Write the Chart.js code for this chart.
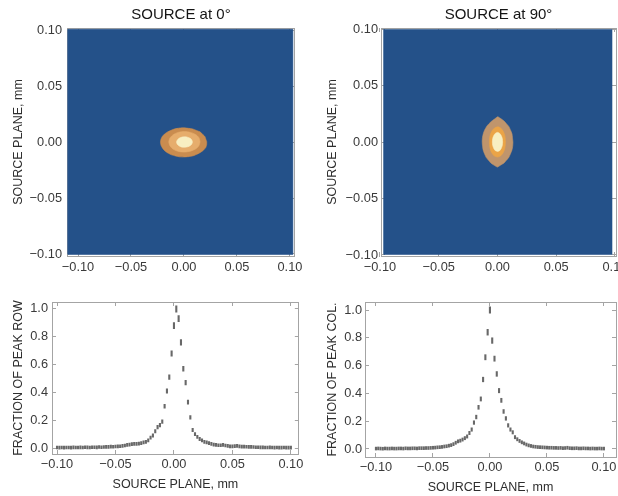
<!DOCTYPE html>
<html><head><meta charset="utf-8">
<script src="https://cdn.jsdelivr.net/npm/chart.js@4"></script>
<style>
html,body{margin:0;padding:0;background:#fff;overflow:hidden;width:618px;height:496px;position:relative;}
canvas{position:absolute;}
</style></head><body>
<canvas id="c1" style="left:0;top:0;width:310px;height:285px" width="310" height="285"></canvas>
<canvas id="c2" style="left:310px;top:0;width:330px;height:285px" width="330" height="285"></canvas>
<canvas id="c3" style="left:0;top:285px;width:310px;height:211px" width="310" height="211"></canvas>
<canvas id="c4" style="left:310px;top:285px;width:330px;height:211px" width="330" height="211"></canvas>
<script>
// ---------- tick values / labels ----------
const planeTickValues = [-0.10, -0.05, 0.00, 0.05, 0.10];
const planeTickLabels = ['\u22120.10', '\u22120.05', '0.00', '0.05', '0.10'];
const fracTickValues = [0.0, 0.2, 0.4, 0.6, 0.8, 1.0];
const fracTickLabels = ['0.0', '0.2', '0.4', '0.6', '0.8', '1.0'];

// ---------- titles ----------
const titleLeft = 'SOURCE at 0\u00B0';
const titleRight = 'SOURCE at 90\u00B0';
const axisPlane = 'SOURCE PLANE, mm';
const axisRow = 'FRACTION OF PEAK ROW';
const axisCol = 'FRACTION OF PEAK COL.';

// ---------- heat map (contour) data, mm ----------
// background level (whole map)
const mapLeftBackground = [[-0.1094,-0.1004],[0.1028,-0.1004],[0.1028,0.1012],[-0.1094,0.1012]];
const mapRightBackground = [[-0.0966,-0.0995],[0.0975,-0.0995],[0.0975,0.0996],[-0.0966,0.0996]];

// source at 0 deg : contour levels (outer -> inner)
const spot0Outer = [[0.0215,0.0005],[0.0206,0.0030],[0.0198,0.0052],[0.0178,0.0070],[0.0152,0.0094],[0.0120,0.0106],[0.0082,0.0120],[0.0040,0.0126],[0.0000,0.0130],[-0.0042,0.0128],[-0.0085,0.0121],[-0.0122,0.0108],[-0.0155,0.0093],[-0.0184,0.0074],[-0.0205,0.0052],[-0.0218,0.0026],[-0.0222,0.0000],[-0.0217,-0.0026],[-0.0204,-0.0050],[-0.0182,-0.0075],[-0.0152,-0.0096],[-0.0118,-0.0112],[-0.0080,-0.0122],[-0.0040,-0.0130],[0.0000,-0.0131],[0.0044,-0.0128],[0.0086,-0.0121],[0.0124,-0.0106],[0.0156,-0.0090],[0.0184,-0.0070],[0.0206,-0.0046],[0.0214,-0.0022]];
const spot0Middle = [[0.0152,0.0005],[0.0141,0.0042],[0.0110,0.0070],[0.0062,0.0089],[0.0005,0.0096],[-0.0055,0.0089],[-0.0101,0.0069],[-0.0132,0.0039],[-0.0143,0.0003],[-0.0131,-0.0033],[-0.0100,-0.0063],[-0.0052,-0.0081],[0.0005,-0.0087],[0.0062,-0.0079],[0.0112,-0.0058],[0.0141,-0.0030]];
const spot0Inner = [[0.0080,0.0002],[0.0074,0.0021],[0.0058,0.0036],[0.0033,0.0046],[0.0005,0.0049],[-0.0025,0.0045],[-0.0048,0.0035],[-0.0064,0.0019],[-0.0070,0.0002],[-0.0064,-0.0016],[-0.0048,-0.0031],[-0.0025,-0.0041],[0.0005,-0.0044],[0.0034,-0.0040],[0.0058,-0.0030],[0.0074,-0.0015]];

// source at 90 deg : contour levels (outer -> inner)
const spot90Outer = [[0.0132,0.0000],[0.0128,0.0038],[0.0124,0.0072],[0.0112,0.0104],[0.0098,0.0136],[0.0078,0.0160],[0.0054,0.0188],[0.0030,0.0206],[0.0003,0.0224],[-0.0024,0.0204],[-0.0048,0.0186],[-0.0072,0.0162],[-0.0092,0.0138],[-0.0110,0.0104],[-0.0121,0.0072],[-0.0128,0.0036],[-0.0130,0.0002],[-0.0127,-0.0036],[-0.0122,-0.0070],[-0.0110,-0.0104],[-0.0096,-0.0136],[-0.0076,-0.0162],[-0.0056,-0.0186],[-0.0028,-0.0206],[0.0000,-0.0222],[0.0028,-0.0204],[0.0056,-0.0186],[0.0078,-0.0160],[0.0098,-0.0134],[0.0112,-0.0102],[0.0124,-0.0070],[0.0130,-0.0036]];
const spot90Middle = [[0.0068,0.0000],[0.0064,0.0050],[0.0050,0.0093],[0.0028,0.0123],[0.0002,0.0134],[-0.0027,0.0122],[-0.0050,0.0092],[-0.0064,0.0050],[-0.0068,0.0000],[-0.0064,-0.0050],[-0.0050,-0.0092],[-0.0028,-0.0122],[0.0000,-0.0133],[0.0028,-0.0122],[0.0050,-0.0092],[0.0064,-0.0050]];
const spot90Inner = [[0.0044,0.0000],[0.0041,0.0032],[0.0031,0.0059],[0.0017,0.0078],[0.0001,0.0085],[-0.0016,0.0078],[-0.0030,0.0059],[-0.0040,0.0032],[-0.0043,0.0000],[-0.0040,-0.0032],[-0.0030,-0.0059],[-0.0016,-0.0078],[0.0000,-0.0084],[0.0017,-0.0078],[0.0031,-0.0059],[0.0041,-0.0032]];

// ---------- profile data ----------
const profileX = [-0.100,-0.098,-0.096,-0.094,-0.092,-0.090,-0.088,-0.086,-0.084,-0.082,-0.080,-0.078,-0.076,-0.074,-0.072,-0.070,-0.068,-0.066,-0.064,-0.062,-0.060,-0.058,-0.056,-0.054,-0.052,-0.050,-0.048,-0.046,-0.044,-0.042,-0.040,-0.038,-0.036,-0.034,-0.032,-0.030,-0.028,-0.026,-0.024,-0.022,-0.020,-0.018,-0.016,-0.014,-0.012,-0.010,-0.008,-0.006,-0.004,-0.002,0.000,0.002,0.004,0.006,0.008,0.010,0.012,0.014,0.016,0.018,0.020,0.022,0.024,0.026,0.028,0.030,0.032,0.034,0.036,0.038,0.040,0.042,0.044,0.046,0.048,0.050,0.052,0.054,0.056,0.058,0.060,0.062,0.064,0.066,0.068,0.070,0.072,0.074,0.076,0.078,0.080,0.082,0.084,0.086,0.088,0.090,0.092,0.094,0.096,0.098,0.100];
const peakRow = [0.004,0.003,0.004,0.003,0.004,0.004,0.003,0.005,0.004,0.004,0.005,0.004,0.006,0.005,0.004,0.006,0.006,0.005,0.007,0.006,
  0.007,0.008,0.008,0.010,0.009,0.011,0.012,0.013,0.015,0.018,
  0.022,0.025,0.028,0.030,0.030,0.032,0.035,0.040,0.045,0.055,
  0.075,0.090,0.120,0.150,0.165,0.190,0.300,0.410,0.510,0.680,
  0.880,1.000,0.930,0.760,0.570,0.470,0.330,0.220,0.130,0.100,0.080,
  0.065,0.055,0.045,0.040,0.035,0.030,0.025,0.022,0.020,0.020,
  0.022,0.018,0.015,0.012,0.012,0.014,0.015,0.012,0.010,
  0.010,0.009,0.008,0.008,0.007,0.006,0.006,0.005,0.005,0.004,0.004,0.005,0.004,0.003,0.004,0.003,0.003,0.004,0.003,0.003,0.003];
const peakCol = [0.003,0.004,0.003,0.002,0.004,0.003,0.003,0.004,0.003,0.003,0.004,0.004,0.003,0.005,0.004,0.004,0.005,0.005,0.004,0.006,
  0.006,0.006,0.007,0.007,0.008,0.009,0.010,0.012,0.013,0.015,
  0.018,0.020,0.024,0.028,0.035,0.045,0.055,0.060,0.068,0.078,
  0.090,0.115,0.140,0.190,0.230,0.300,0.360,0.500,0.660,0.840,
  1.000,0.780,0.650,0.540,0.420,0.350,0.270,0.220,0.170,0.140,0.120,
  0.085,0.070,0.058,0.048,0.040,0.032,0.026,0.022,0.018,0.016,
  0.014,0.013,0.012,0.011,0.010,0.009,0.009,0.008,0.008,
  0.007,0.008,0.006,0.007,0.009,0.006,0.005,0.005,0.006,0.004,0.004,0.005,0.004,0.004,0.003,0.004,0.003,0.003,0.004,0.003,0.003];

// ---------- styling ----------
const FONT = "'Liberation Sans', Arial, Helvetica, sans-serif";
const tickColor = '#3a3a3a';
const frameColor = '#a4a4a4';
const mapBlue = '#245189';

function fixedSize(size) {
  return s => { if (s.isHorizontal()) s.height = size; else s.width = size; };
}
function useTicks(values) {
  return s => { s.ticks = values.map(v => ({ value: v })); };
}
function labelFrom(values, labels) {
  return v => { const i = values.indexOf(v); return i >= 0 ? labels[i] : ''; };
}
function axis(o) {
  return {
    type: 'linear', position: o.position, min: o.min, max: o.max, bounds: 'data',
    afterBuildTicks: useTicks(o.values), afterFit: fixedSize(o.size),
    ticks: {
      display: !!o.labels, padding: o.pad || 0, color: tickColor,
      font: { family: FONT, size: 12.8 }, maxRotation: 0, autoSkip: false,
      callback: o.labels ? labelFrom(o.values, o.labels) : () => ''
    },
    grid: { display: true, drawOnChartArea: false, drawTicks: true, tickLength: -4, color: frameColor, lineWidth: 1 },
    border: { display: true, color: frameColor, width: 1 },
    title: o.title ? {
      display: true, text: o.title, color: o.titleColor || '#2e2e2e',
      font: { family: FONT, size: o.titleSize || 12.5 },
      padding: o.titlePad
    } : { display: false }
  };
}
function poly(points, color, order, tension) {
  const pts = points.map(p => ({ x: p[0], y: p[1] }));
  pts.push({ x: points[0][0], y: points[0][1] });
  return {
    type: 'line', data: pts, showLine: true, fill: 'shape', order: order,
    backgroundColor: color, borderColor: color, borderWidth: 0.6,
    pointRadius: 0, tension: tension
  };
}
const common = {
  responsive: false, animation: false, devicePixelRatio: 1, events: [],
  plugins: { legend: { display: false }, tooltip: { enabled: false }, title: { display: false } },
  layout: { padding: 0 }
};

function mapChart(id, cfg) {
  new Chart(document.getElementById(id), {
    type: 'scatter',
    data: { datasets: [
      poly(cfg.bg, mapBlue, 3, 0),
      poly(cfg.outer, cfg.colors[0], 2, 0.1),
      poly(cfg.middle, cfg.colors[1], 1, 0.25),
      poly(cfg.inner, cfg.colors[2], 0, 0.25)
    ] },
    options: Object.assign({}, common, {
      scales: {
        x: axis({ position: 'bottom', min: cfg.xmin, max: cfg.xmax, values: planeTickValues, labels: planeTickLabels, size: cfg.bottom, pad: cfg.xpad }),
        xTop: axis({ position: 'top', min: cfg.xmin, max: cfg.xmax, values: planeTickValues, size: cfg.top,
          title: cfg.title, titleSize: 15, titleColor: '#151515', titlePad: { top: 6, bottom: 0 } }),
        y: axis({ position: 'left', min: cfg.ymin, max: cfg.ymax, values: planeTickValues, labels: planeTickLabels, size: cfg.left, pad: cfg.ypad,
          title: axisPlane, titlePad: { top: cfg.ytitlePad, bottom: 0 } }),
        yRight: axis({ position: 'right', min: cfg.ymin, max: cfg.ymax, values: planeTickValues, size: cfg.right })
      }
    })
  });
}

function profileChart(id, cfg) {
  const pts = profileX.map((x, i) => ({ x: x, y: cfg.values[i] }));
  new Chart(document.getElementById(id), {
    type: 'scatter',
    data: { datasets: [{
      data: pts, showLine: false,
      pointStyle: 'line', rotation: 90,
      pointRadius: c => 1.8 + 1.7 * (c.raw ? c.raw.y : 0),
      pointBorderColor: '#686868', pointBackgroundColor: '#686868', pointBorderWidth: 2.1
    }] },
    options: Object.assign({}, common, {
      scales: {
        x: axis({ position: 'bottom', min: cfg.xmin, max: cfg.xmax, values: planeTickValues, labels: planeTickLabels, size: cfg.bottom, pad: cfg.xpad,
          title: axisPlane, titlePad: { top: 0, bottom: cfg.xtitlePad } }),
        xTop: axis({ position: 'top', min: cfg.xmin, max: cfg.xmax, values: planeTickValues, size: cfg.top }),
        y: axis({ position: 'left', min: cfg.ymin, max: cfg.ymax, values: fracTickValues, labels: fracTickLabels, size: cfg.left, pad: cfg.ypad,
          title: cfg.ytitle, titlePad: { top: cfg.ytitlePad, bottom: 0 } }),
        yRight: axis({ position: 'right', min: cfg.ymin, max: cfg.ymax, values: fracTickValues, size: cfg.right })
      }
    })
  });
}

mapChart('c1', {
  title: titleLeft, bg: mapLeftBackground, outer: spot0Outer, middle: spot0Middle, inner: spot0Inner,
  colors: ['#c98c4f', '#e6ad6c', '#f8efc2'],
  xmin: -0.1104, xmax: 0.1047, ymin: -0.1018, ymax: 0.1024,
  left: 67, right: 15, top: 28, bottom: 29, xpad: 7.3, ypad: 9, ytitlePad: 11.5
});
mapChart('c2', {
  title: titleRight, bg: mapRightBackground, outer: spot90Outer, middle: spot90Middle, inner: spot90Inner,
  colors: ['#c0956c', '#eba447', '#f8efc2'],
  xmin: -0.0991, xmax: 0.1009, ymin: -0.1009, ymax: 0.1009,
  left: 71, right: 24, top: 28, bottom: 29, xpad: 7.3, ypad: 7, ytitlePad: 15.5
});
profileChart('c3', {
  values: peakRow, ytitle: axisRow,
  xmin: -0.1043, xmax: 0.1068, ymin: -0.043, ymax: 1.050,
  left: 52, right: 11, top: 17, bottom: 42, xpad: 6.3, ypad: 8, ytitlePad: 11.5, xtitlePad: 3.5
});
profileChart('c4', {
  values: peakCol, ytitle: axisCol,
  xmin: -0.1096, xmax: 0.1106, ymin: -0.0576, ymax: 1.0576,
  left: 55, right: 24, top: 17, bottom: 39, xpad: 6.3, ypad: 7, ytitlePad: 15.5, xtitlePad: 0.5
});
</script>
</body></html>
